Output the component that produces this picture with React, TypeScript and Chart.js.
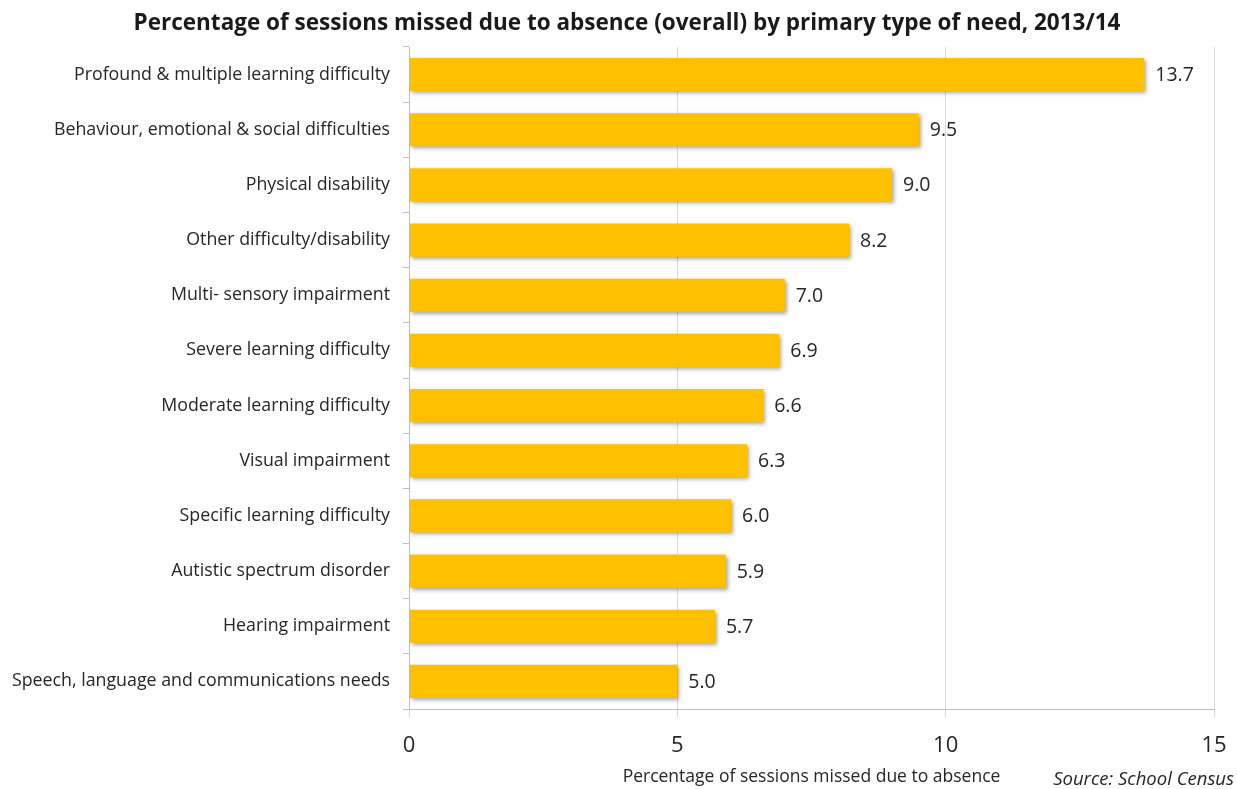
import React, { useEffect, useRef } from "react";
import { Chart, registerables } from "chart.js";

Chart.register(...registerables);

const categories = [
  "Profound & multiple learning difficulty",
  "Behaviour, emotional & social difficulties",
  "Physical disability",
  "Other difficulty/disability",
  "Multi- sensory impairment",
  "Severe learning difficulty",
  "Moderate learning difficulty",
  "Visual impairment",
  "Specific learning difficulty",
  "Autistic spectrum disorder",
  "Hearing impairment",
  "Speech, language and communications needs",
];
const values = [13.7, 9.5, 9.0, 8.2, 7.0, 6.9, 6.6, 6.3, 6.0, 5.9, 5.7, 5.0];
const xTicks = [0, 5, 10, 15];

const TITLE = "Percentage of sessions missed due to absence (overall) by primary type of need, 2013/14";
const X_TITLE = "Percentage of sessions missed due to absence";
const SOURCE = "Source: School Census";
const FONT = "'Open Sans', sans-serif";

export default function App() {
  const ref = useRef<HTMLCanvasElement | null>(null);

  useEffect(() => {
    document.body.style.margin = "0";
    const canvas = ref.current;
    if (!canvas) return;

    const shadowPlugin = {
      id: "barShadow",
      beforeDatasetsDraw(chart: any) {
        const ctx = chart.ctx;
        ctx.save();
        ctx.shadowColor = "rgba(0,0,0,0.35)";
        ctx.shadowBlur = 4;
        ctx.shadowOffsetX = 2;
        ctx.shadowOffsetY = 2;
      },
      afterDatasetsDraw(chart: any) {
        const ctx = chart.ctx;
        ctx.restore();
        const meta = chart.getDatasetMeta(0);
        ctx.save();
        ctx.font = `19.5px ${FONT}`;
        ctx.fillStyle = "#262626";
        ctx.textAlign = "left";
        ctx.textBaseline = "middle";
        meta.data.forEach((el: any, i: number) => {
          ctx.fillText(values[i].toFixed(1), el.x + 11, el.y + 1);
        });
        ctx.restore();
      },
    };

    const textPlugin = {
      id: "texts",
      afterDraw(chart: any) {
        const ctx = chart.ctx;
        const area = chart.chartArea;
        ctx.save();
        ctx.fillStyle = "#1a1a1a";
        ctx.textBaseline = "middle";
        ctx.textAlign = "center";
        ctx.font = `bold 22.5px ${FONT}`;
        ctx.fillText(TITLE, 627, 24);
        ctx.font = `17.5px ${FONT}`;
        ctx.fillStyle = "#262626";
        ctx.fillText(X_TITLE, (area.left + area.right) / 2, 777);
        ctx.textAlign = "right";
        ctx.font = `italic 18.5px ${FONT}`;
        ctx.fillText(SOURCE, 1234, 780);
        ctx.restore();
      },
    };

    const chart = new Chart(canvas, {
      type: "bar",
      data: {
        labels: categories,
        datasets: [
          {
            data: values,
            backgroundColor: "#FFC000",
            borderWidth: 0,
            categoryPercentage: 0.6,
            barPercentage: 1,
          },
        ],
      },
      options: {
        indexAxis: "y",
        animation: false,
        responsive: false,
        maintainAspectRatio: false,
        layout: { padding: { left: 0, right: 23, top: 47, bottom: 0 } },
        plugins: {
          legend: { display: false },
          title: { display: false },
          tooltip: { enabled: false },
        },
        scales: {
          x: {
            min: 0,
            max: 15,
            afterBuildTicks(scale: any) {
              scale.ticks = xTicks.map((v) => ({ value: v }));
            },
            afterFit(scale: any) {
              scale.height = 80;
              scale.paddingLeft = 0;
              scale.paddingRight = 0;
            },
            grid: {
              color: "#d9d9d9",
              lineWidth: 1,
              tickLength: 8,
              drawTicks: true,
            },
            border: { color: "#bfbfbf" },
            ticks: {
              font: { family: FONT, size: 22 },
              color: "#262626",
              padding: 16,
              maxRotation: 0,
            },
          },
          y: {
            afterFit(scale: any) {
              scale.width = 409;
              scale.paddingTop = 0;
              scale.paddingBottom = 0;
            },
            grid: {
              offset: true,
              drawOnChartArea: false,
              tickLength: 6,
              color: "#bfbfbf",
            },
            border: { color: "#bfbfbf" },
            ticks: {
              font: { family: FONT, size: 17.8 },
              color: "#262626",
              padding: 13,
              autoSkip: false,
            },
          },
        },
      },
      plugins: [shadowPlugin, textPlugin],
    });

    return () => chart.destroy();
  }, []);

  return (
    <div style={{ position: "relative", width: 1237, height: 789, background: "#fff" }}>
      <canvas ref={ref} width={1237} height={789} style={{ display: "block" }} />
    </div>
  );
}
